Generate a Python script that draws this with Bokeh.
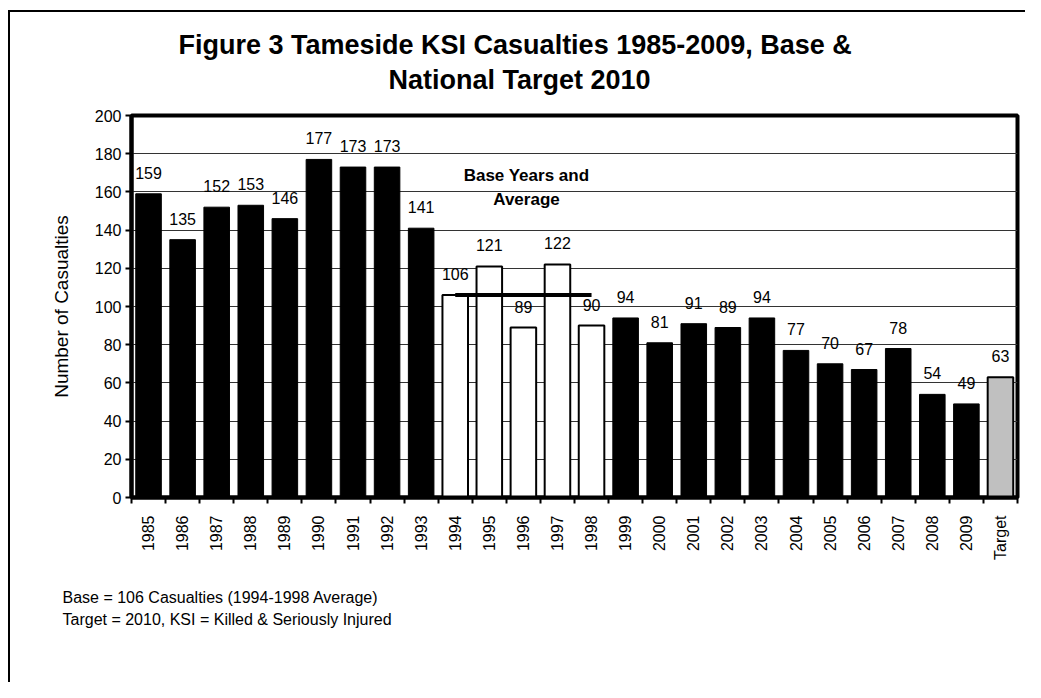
import numpy as np
from bokeh.plotting import figure
from bokeh.models import Range1d, FixedTicker, Label, Title, ColumnDataSource
from bokeh.embed import file_html
from bokeh.resources import INLINE
from bokeh.core.properties import value

# ---------------- data ----------------
categories = ["1985", "1986", "1987", "1988", "1989", "1990", "1991", "1992", "1993",
              "1994", "1995", "1996", "1997", "1998", "1999", "2000", "2001", "2002",
              "2003", "2004", "2005", "2006", "2007", "2008", "2009", "Target"]
casualties = [159, 135, 152, 153, 146, 177, 173, 173, 141,
              106, 121, 89, 122, 90, 94, 81, 91, 89,
              94, 77, 70, 67, 78, 54, 49, 63]
base_years = ["1994", "1995", "1996", "1997", "1998"]
base_average = 106
target_category = "Target"
y_ticks = [0, 20, 40, 60, 80, 100, 120, 140, 160, 180, 200]

title_lines = ["Figure 3 Tameside KSI Casualties 1985-2009, Base &", "National Target 2010"]
annotation_lines = ["Base Years and", "Average"]
footnotes = ["Base = 106 Casualties (1994-1998 Average)",
             "Target = 2010, KSI = Killed & Seriously Injured"]
y_label = "Number of Casualties"

# ---------------- layout ----------------
FONT = "Liberation Sans"
W, H = 1025, 682
ML, MR, MT, MB = 131, 8, 115, 185
FW = W - ML - MR
FH = H - MT - MB
Y_MAX = 200
N = len(categories)

def px_x(cx):
    return (cx - ML) / FW * N

def px_y(cy):
    return (MT + FH - cy) / FH * Y_MAX

# ---------------- figure ----------------
p = figure(width=W, height=H, output_backend="svg", toolbar_location=None,
           x_range=Range1d(0, N), y_range=Range1d(0, Y_MAX),
           min_border_left=ML, min_border_right=MR, min_border_top=MT, min_border_bottom=MB,
           background_fill_color="white", border_fill_color=None)
p.title.visible = False

# chart-area border: an L-shaped edge (top and left) behind the transparent canvas border
p.styles = {
    "background-color": "#ffffff",
    "background-image": (
        "conic-gradient(at 10px 12px, transparent 0deg 90deg, #ffffff 90deg 180deg, transparent 180deg 360deg), "
        "conic-gradient(at 8px 10px, transparent 0deg 90deg, #000000 90deg 180deg, transparent 180deg 360deg)"
    ),
}

p.outline_line_color = "black"
p.outline_line_width = 4

xc = [i + 0.5 for i in range(N)]
fills, lws = [], []
for c in categories:
    if c in base_years:
        fills.append("white"); lws.append(2)
    elif c == target_category:
        fills.append("#c0c0c0"); lws.append(2)
    else:
        fills.append("black"); lws.append(1)

src = ColumnDataSource(dict(x=xc, top=casualties, fill=fills, lw=lws,
                            lbl=[str(v) for v in casualties]))

p.vbar(x="x", top="top", width=0.75, bottom=0, source=src,
       fill_color="fill", line_color="black", line_width="lw")

p.text(x="x", y="top", text="lbl", source=src, text_align="center", text_baseline="bottom",
       y_offset=-15, text_font=value(FONT), text_font_size="16px", text_color="black")

# base average line
bx0 = categories.index(base_years[0]) + 0.5
bx1 = categories.index(base_years[-1]) + 0.5
p.line(x=[bx0, bx1], y=[base_average, base_average], line_color="black", line_width=4)

# axes
p.xgrid.visible = False
p.ygrid.ticker = FixedTicker(ticks=y_ticks)
p.ygrid.grid_line_color = "#333333"
p.ygrid.grid_line_width = 1

p.yaxis.ticker = FixedTicker(ticks=y_ticks)
p.yaxis.axis_line_width = 4
p.yaxis.major_tick_out = 6
p.yaxis.major_tick_in = 0
p.yaxis.major_tick_line_width = 2
p.yaxis.minor_tick_line_color = None
p.yaxis.major_label_text_font = FONT
p.yaxis.major_label_text_font_size = "16px"
p.yaxis.major_label_text_color = "black"
p.yaxis.major_label_standoff = 4
p.yaxis.axis_label = y_label
p.yaxis.axis_label_text_font = FONT
p.yaxis.axis_label_text_font_size = "19px"
p.yaxis.axis_label_text_font_style = "normal"
p.yaxis.axis_label_text_color = "black"
p.yaxis.axis_label_standoff = 20

p.xaxis.ticker = FixedTicker(ticks=xc, minor_ticks=list(range(N + 1)))
p.xaxis.major_label_overrides = {x: c for x, c in zip(xc, categories)}
p.xaxis.major_label_orientation = np.pi / 2
p.xaxis.axis_line_width = 4
p.xaxis.major_tick_out = 0
p.xaxis.major_tick_in = 0
p.xaxis.minor_tick_out = 6
p.xaxis.minor_tick_in = 0
p.xaxis.minor_tick_line_width = 2
p.xaxis.minor_tick_line_color = "black"
p.xaxis.major_label_text_font = FONT
p.xaxis.major_label_text_font_size = "16px"
p.xaxis.major_label_text_color = "black"
p.xaxis.major_label_standoff = 12

# title (two lines), nearest-to-frame first
p.add_layout(Title(text=title_lines[1], align="left", offset=388 - ML, standoff=42,
                   text_font=FONT, text_font_size="27px", text_font_style="bold",
                   text_color="black"), "above")
p.add_layout(Title(text=title_lines[0], align="left", offset=178 - ML, standoff=-37,
                   text_font=FONT, text_font_size="27px", text_font_style="bold",
                   text_color="black"), "above")

# footnotes below the x axis
p.add_layout(Title(text=footnotes[0], align="left", offset=62 - ML, standoff=-87,
                   text_font=FONT, text_font_size="16px", text_font_style="normal",
                   text_color="black"), "below")
p.add_layout(Title(text=footnotes[1], align="left", offset=62 - ML, standoff=93,
                   text_font=FONT, text_font_size="16px", text_font_style="normal",
                   text_color="black"), "below")

# annotation inside the plot
for line, cy in zip(annotation_lines, [175, 199]):
    p.add_layout(Label(x=px_x(526), y=px_y(cy), text=line, text_align="center",
                       text_baseline="middle", text_font=FONT, text_font_size="17px",
                       text_font_style="bold", text_color="black"))

open("out.html", "w").write(file_html(p, INLINE))
